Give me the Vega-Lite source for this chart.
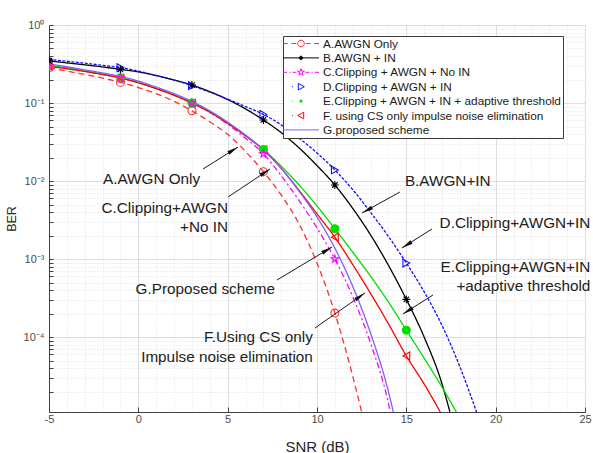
{
  "$schema": "https://vega.github.io/schema/vega-lite/v6.json",
  "width": 536,
  "height": 387,
  "autosize": {"type": "none"},
  "padding": {"left": 49, "top": 25, "right": 8, "bottom": 41},
  "background": "white",
  "config": {"font": "Liberation Sans", "view": {"stroke": null}},
  "datasets": {
    "curves": [
      {"series": "A.AWGN Only", "snr": -5, "ber": 0.282},
      {"series": "A.AWGN Only", "snr": -4, "ber": 0.257},
      {"series": "A.AWGN Only", "snr": -3, "ber": 0.232},
      {"series": "A.AWGN Only", "snr": -2, "ber": 0.209},
      {"series": "A.AWGN Only", "snr": -1, "ber": 0.184},
      {"series": "A.AWGN Only", "snr": 0, "ber": 0.158},
      {"series": "A.AWGN Only", "snr": 1, "ber": 0.132},
      {"series": "A.AWGN Only", "snr": 2, "ber": 0.105},
      {"series": "A.AWGN Only", "snr": 3, "ber": 0.0794},
      {"series": "A.AWGN Only", "snr": 4, "ber": 0.0575},
      {"series": "A.AWGN Only", "snr": 5, "ber": 0.0398},
      {"series": "A.AWGN Only", "snr": 6, "ber": 0.024},
      {"series": "A.AWGN Only", "snr": 7, "ber": 0.0132},
      {"series": "A.AWGN Only", "snr": 8, "ber": 0.00661},
      {"series": "A.AWGN Only", "snr": 9, "ber": 0.00282},
      {"series": "A.AWGN Only", "snr": 10, "ber": 0.000891},
      {"series": "A.AWGN Only", "snr": 11, "ber": 0.000204},
      {"series": "A.AWGN Only", "snr": 12, "ber": 0.0000316},
      {"series": "A.AWGN Only", "snr": 12.5, "ber": 0.000011},
      {"series": "B.AWGN + IN", "snr": -5, "ber": 0.347},
      {"series": "B.AWGN + IN", "snr": -4, "ber": 0.327},
      {"series": "B.AWGN + IN", "snr": -3, "ber": 0.309},
      {"series": "B.AWGN + IN", "snr": -2, "ber": 0.29},
      {"series": "B.AWGN + IN", "snr": -1, "ber": 0.27},
      {"series": "B.AWGN + IN", "snr": 0, "ber": 0.251},
      {"series": "B.AWGN + IN", "snr": 1, "ber": 0.225},
      {"series": "B.AWGN + IN", "snr": 2, "ber": 0.197},
      {"series": "B.AWGN + IN", "snr": 3, "ber": 0.17},
      {"series": "B.AWGN + IN", "snr": 4, "ber": 0.14},
      {"series": "B.AWGN + IN", "snr": 5, "ber": 0.111},
      {"series": "B.AWGN + IN", "snr": 6, "ber": 0.0841},
      {"series": "B.AWGN + IN", "snr": 7, "ber": 0.0607},
      {"series": "B.AWGN + IN", "snr": 8, "ber": 0.0417},
      {"series": "B.AWGN + IN", "snr": 9, "ber": 0.0266},
      {"series": "B.AWGN + IN", "snr": 10, "ber": 0.0158},
      {"series": "B.AWGN + IN", "snr": 11, "ber": 0.00891},
      {"series": "B.AWGN + IN", "snr": 12, "ber": 0.00447},
      {"series": "B.AWGN + IN", "snr": 13, "ber": 0.00204},
      {"series": "B.AWGN + IN", "snr": 14, "ber": 0.000832},
      {"series": "B.AWGN + IN", "snr": 15, "ber": 0.000305},
      {"series": "B.AWGN + IN", "snr": 16, "ber": 0.0001},
      {"series": "B.AWGN + IN", "snr": 17, "ber": 0.0000251},
      {"series": "B.AWGN + IN", "snr": 17.44, "ber": 0.000011},
      {"series": "C.Clipping + AWGN + No IN", "snr": -5, "ber": 0.302},
      {"series": "C.Clipping + AWGN + No IN", "snr": -4, "ber": 0.282},
      {"series": "C.Clipping + AWGN + No IN", "snr": -3, "ber": 0.257},
      {"series": "C.Clipping + AWGN + No IN", "snr": -2, "ber": 0.234},
      {"series": "C.Clipping + AWGN + No IN", "snr": -1, "ber": 0.211},
      {"series": "C.Clipping + AWGN + No IN", "snr": 0, "ber": 0.184},
      {"series": "C.Clipping + AWGN + No IN", "snr": 1, "ber": 0.155},
      {"series": "C.Clipping + AWGN + No IN", "snr": 2, "ber": 0.126},
      {"series": "C.Clipping + AWGN + No IN", "snr": 3, "ber": 0.1},
      {"series": "C.Clipping + AWGN + No IN", "snr": 4, "ber": 0.0759},
      {"series": "C.Clipping + AWGN + No IN", "snr": 5, "ber": 0.0537},
      {"series": "C.Clipping + AWGN + No IN", "snr": 6, "ber": 0.0355},
      {"series": "C.Clipping + AWGN + No IN", "snr": 7, "ber": 0.0224},
      {"series": "C.Clipping + AWGN + No IN", "snr": 8, "ber": 0.0117},
      {"series": "C.Clipping + AWGN + No IN", "snr": 9, "ber": 0.00562},
      {"series": "C.Clipping + AWGN + No IN", "snr": 10, "ber": 0.00251},
      {"series": "C.Clipping + AWGN + No IN", "snr": 11, "ber": 0.001},
      {"series": "C.Clipping + AWGN + No IN", "snr": 12, "ber": 0.000331},
      {"series": "C.Clipping + AWGN + No IN", "snr": 13, "ber": 0.0000832},
      {"series": "C.Clipping + AWGN + No IN", "snr": 14, "ber": 0.0000141},
      {"series": "C.Clipping + AWGN + No IN", "snr": 14.1, "ber": 0.000011},
      {"series": "D.Clipping + AWGN + IN", "snr": -5, "ber": 0.363},
      {"series": "D.Clipping + AWGN + IN", "snr": -4, "ber": 0.343},
      {"series": "D.Clipping + AWGN + IN", "snr": -3, "ber": 0.324},
      {"series": "D.Clipping + AWGN + IN", "snr": -2, "ber": 0.304},
      {"series": "D.Clipping + AWGN + IN", "snr": -1, "ber": 0.284},
      {"series": "D.Clipping + AWGN + IN", "snr": 0, "ber": 0.257},
      {"series": "D.Clipping + AWGN + IN", "snr": 1, "ber": 0.226},
      {"series": "D.Clipping + AWGN + IN", "snr": 2, "ber": 0.197},
      {"series": "D.Clipping + AWGN + IN", "snr": 3, "ber": 0.167},
      {"series": "D.Clipping + AWGN + IN", "snr": 4, "ber": 0.138},
      {"series": "D.Clipping + AWGN + IN", "snr": 5, "ber": 0.112},
      {"series": "D.Clipping + AWGN + IN", "snr": 6, "ber": 0.0902},
      {"series": "D.Clipping + AWGN + IN", "snr": 7, "ber": 0.0716},
      {"series": "D.Clipping + AWGN + IN", "snr": 8, "ber": 0.0525},
      {"series": "D.Clipping + AWGN + IN", "snr": 9, "ber": 0.0355},
      {"series": "D.Clipping + AWGN + IN", "snr": 10, "ber": 0.0229},
      {"series": "D.Clipping + AWGN + IN", "snr": 11, "ber": 0.0139},
      {"series": "D.Clipping + AWGN + IN", "snr": 12, "ber": 0.00776},
      {"series": "D.Clipping + AWGN + IN", "snr": 13, "ber": 0.00398},
      {"series": "D.Clipping + AWGN + IN", "snr": 14, "ber": 0.00195},
      {"series": "D.Clipping + AWGN + IN", "snr": 15, "ber": 0.000891},
      {"series": "D.Clipping + AWGN + IN", "snr": 16, "ber": 0.00038},
      {"series": "D.Clipping + AWGN + IN", "snr": 17, "ber": 0.000141},
      {"series": "D.Clipping + AWGN + IN", "snr": 18, "ber": 0.0000417},
      {"series": "D.Clipping + AWGN + IN", "snr": 18.93, "ber": 0.000011},
      {"series": "E.Clipping + AWGN + IN + adaptive threshold", "snr": -5, "ber": 0.302},
      {"series": "E.Clipping + AWGN + IN + adaptive threshold", "snr": -4, "ber": 0.282},
      {"series": "E.Clipping + AWGN + IN + adaptive threshold", "snr": -3, "ber": 0.257},
      {"series": "E.Clipping + AWGN + IN + adaptive threshold", "snr": -2, "ber": 0.234},
      {"series": "E.Clipping + AWGN + IN + adaptive threshold", "snr": -1, "ber": 0.211},
      {"series": "E.Clipping + AWGN + IN + adaptive threshold", "snr": 0, "ber": 0.182},
      {"series": "E.Clipping + AWGN + IN + adaptive threshold", "snr": 1, "ber": 0.153},
      {"series": "E.Clipping + AWGN + IN + adaptive threshold", "snr": 2, "ber": 0.126},
      {"series": "E.Clipping + AWGN + IN + adaptive threshold", "snr": 3, "ber": 0.1},
      {"series": "E.Clipping + AWGN + IN + adaptive threshold", "snr": 4, "ber": 0.0767},
      {"series": "E.Clipping + AWGN + IN + adaptive threshold", "snr": 5, "ber": 0.0556},
      {"series": "E.Clipping + AWGN + IN + adaptive threshold", "snr": 6, "ber": 0.0385},
      {"series": "E.Clipping + AWGN + IN + adaptive threshold", "snr": 7, "ber": 0.0255},
      {"series": "E.Clipping + AWGN + IN + adaptive threshold", "snr": 8, "ber": 0.0155},
      {"series": "E.Clipping + AWGN + IN + adaptive threshold", "snr": 9, "ber": 0.00891},
      {"series": "E.Clipping + AWGN + IN + adaptive threshold", "snr": 10, "ber": 0.00479},
      {"series": "E.Clipping + AWGN + IN + adaptive threshold", "snr": 11, "ber": 0.00245},
      {"series": "E.Clipping + AWGN + IN + adaptive threshold", "snr": 12, "ber": 0.00123},
      {"series": "E.Clipping + AWGN + IN + adaptive threshold", "snr": 13, "ber": 0.000603},
      {"series": "E.Clipping + AWGN + IN + adaptive threshold", "snr": 14, "ber": 0.000282},
      {"series": "E.Clipping + AWGN + IN + adaptive threshold", "snr": 15, "ber": 0.000123},
      {"series": "E.Clipping + AWGN + IN + adaptive threshold", "snr": 16, "ber": 0.0000537},
      {"series": "E.Clipping + AWGN + IN + adaptive threshold", "snr": 17, "ber": 0.0000229},
      {"series": "E.Clipping + AWGN + IN + adaptive threshold", "snr": 17.8, "ber": 0.000011},
      {"series": "F. using CS only impulse noise elimination", "snr": -5, "ber": 0.295},
      {"series": "F. using CS only impulse noise elimination", "snr": -4, "ber": 0.275},
      {"series": "F. using CS only impulse noise elimination", "snr": -3, "ber": 0.254},
      {"series": "F. using CS only impulse noise elimination", "snr": -2, "ber": 0.232},
      {"series": "F. using CS only impulse noise elimination", "snr": -1, "ber": 0.209},
      {"series": "F. using CS only impulse noise elimination", "snr": 0, "ber": 0.182},
      {"series": "F. using CS only impulse noise elimination", "snr": 1, "ber": 0.153},
      {"series": "F. using CS only impulse noise elimination", "snr": 2, "ber": 0.126},
      {"series": "F. using CS only impulse noise elimination", "snr": 3, "ber": 0.1},
      {"series": "F. using CS only impulse noise elimination", "snr": 4, "ber": 0.0767},
      {"series": "F. using CS only impulse noise elimination", "snr": 5, "ber": 0.055},
      {"series": "F. using CS only impulse noise elimination", "snr": 6, "ber": 0.038},
      {"series": "F. using CS only impulse noise elimination", "snr": 7, "ber": 0.0251},
      {"series": "F. using CS only impulse noise elimination", "snr": 8, "ber": 0.0145},
      {"series": "F. using CS only impulse noise elimination", "snr": 9, "ber": 0.00759},
      {"series": "F. using CS only impulse noise elimination", "snr": 10, "ber": 0.0038},
      {"series": "F. using CS only impulse noise elimination", "snr": 11, "ber": 0.00191},
      {"series": "F. using CS only impulse noise elimination", "snr": 12, "ber": 0.000851},
      {"series": "F. using CS only impulse noise elimination", "snr": 13, "ber": 0.000363},
      {"series": "F. using CS only impulse noise elimination", "snr": 14, "ber": 0.000148},
      {"series": "F. using CS only impulse noise elimination", "snr": 15, "ber": 0.0000575},
      {"series": "F. using CS only impulse noise elimination", "snr": 16, "ber": 0.0000251},
      {"series": "F. using CS only impulse noise elimination", "snr": 16.9, "ber": 0.000011},
      {"series": "G.proposed scheme", "snr": -5, "ber": 0.316},
      {"series": "G.proposed scheme", "snr": -4, "ber": 0.292},
      {"series": "G.proposed scheme", "snr": -3, "ber": 0.266},
      {"series": "G.proposed scheme", "snr": -2, "ber": 0.243},
      {"series": "G.proposed scheme", "snr": -1, "ber": 0.219},
      {"series": "G.proposed scheme", "snr": 0, "ber": 0.191},
      {"series": "G.proposed scheme", "snr": 1, "ber": 0.16},
      {"series": "G.proposed scheme", "snr": 2, "ber": 0.132},
      {"series": "G.proposed scheme", "snr": 3, "ber": 0.105},
      {"series": "G.proposed scheme", "snr": 4, "ber": 0.0794},
      {"series": "G.proposed scheme", "snr": 5, "ber": 0.0569},
      {"series": "G.proposed scheme", "snr": 6, "ber": 0.0389},
      {"series": "G.proposed scheme", "snr": 7, "ber": 0.0251},
      {"series": "G.proposed scheme", "snr": 8, "ber": 0.0145},
      {"series": "G.proposed scheme", "snr": 9, "ber": 0.00741},
      {"series": "G.proposed scheme", "snr": 10, "ber": 0.00347},
      {"series": "G.proposed scheme", "snr": 11, "ber": 0.00138},
      {"series": "G.proposed scheme", "snr": 12, "ber": 0.000447},
      {"series": "G.proposed scheme", "snr": 13, "ber": 0.000112},
      {"series": "G.proposed scheme", "snr": 14, "ber": 0.00002},
      {"series": "G.proposed scheme", "snr": 14.27, "ber": 0.000011}
    ],
    "names": [
      {"series": "A.AWGN Only"},
      {"series": "B.AWGN + IN"},
      {"series": "C.Clipping + AWGN + No IN"},
      {"series": "D.Clipping + AWGN + IN"},
      {"series": "E.Clipping + AWGN + IN + adaptive threshold"},
      {"series": "F. using CS only impulse noise elimination"},
      {"series": "G.proposed scheme"}
    ],
    "arrows": [
      {"x0": 3.62, "y0": 0.01429, "x1": 5.58, "y1": 0.02735},
      {"x0": 5.02, "y0": 0.00625, "x1": 7.37, "y1": 0.01429},
      {"x0": 7.76, "y0": 0.00054, "x1": 10.84, "y1": 0.00143},
      {"x0": 9.885, "y0": 0.000131, "x1": 12.68, "y1": 0.000368},
      {"x0": 14.64, "y0": 0.00724, "x1": 12.52, "y1": 0.0039},
      {"x0": 16.43, "y0": 0.00243, "x1": 14.75, "y1": 0.00139},
      {"x0": 16.49, "y0": 0.000347, "x1": 14.81, "y1": 0.000198}
    ],
    "notesLeft": [
      {"snr": -1.98, "ber": 0.01064, "label": "A.AWGN Only"},
      {"snr": 14.92, "ber": 0.01, "label": "B.AWGN+IN"}
    ],
    "notesRight": [
      {"snr": 5.02, "ber": 0.00452, "label": "C.Clipping+AWGN"},
      {"snr": 5.02, "ber": 0.00258, "label": "+No IN"},
      {"snr": 7.65, "ber": 0.000414, "label": "G.Proposed scheme"},
      {"snr": 9.77, "ber": 0.0000991, "label": "F.Using CS only"},
      {"snr": 9.77, "ber": 0.0000557, "label": "Impulse noise elimination"},
      {"snr": 25.3, "ber": 0.00294, "label": "D.Clipping+AWGN+IN"},
      {"snr": 25.3, "ber": 0.000804, "label": "E.Clipping+AWGN+IN"},
      {"snr": 25.3, "ber": 0.000452, "label": "+adaptive threshold"}
    ]
  },
  "layer": [
    {
      "data": {"name": "curves"},
      "mark": {"type": "line", "interpolate": "monotone", "strokeWidth": 1.3, "clip": true},
      "encoding": {
        "x": {
          "field": "snr", "type": "quantitative",
          "scale": {"domain": [-5, 25], "nice": false, "zero": false},
          "axis": {
            "title": "SNR (dB)",
            "values": [-5, -4, -3, -2, -1, 0, 1, 2, 3, 4, 5, 6, 7, 8, 9, 10, 11, 12, 13, 14, 15, 16, 17, 18, 19, 20, 21, 22, 23, 24, 25],
            "labelExpr": "datum.value % 5 == 0 ? '' + datum.value : ''",
            "labelOverlap": false,
            "labelFlush": false,
            "labelFontSize": 11,
            "labelColor": "#4d4d4d",
            "labelPadding": 6,
            "tickSize": -5,
            "tickColor": {"condition": {"test": "datum.value % 5 == 0", "value": "#404040"}, "value": "transparent"},
            "domainColor": "#404040",
            "grid": true,
            "gridColor": {"condition": {"test": "datum.value % 5 == 0", "value": "#d2d2d2"}, "value": "#e2e2e2"},
            "gridDash": {"condition": {"test": "datum.value % 5 == 0", "value": [1, 0]}, "value": [1, 2]},
            "titleFontSize": 15,
            "titleFontWeight": "normal",
            "titleColor": "#262626",
            "titleY": 34,
            "titleBaseline": "middle"
          }
        },
        "y": {
          "field": "ber", "type": "quantitative",
          "scale": {"type": "log", "domain": [0.000011, 1], "nice": false},
          "axis": {
            "title": "BER",
            "values": [0.00002, 0.00003, 0.00004, 0.00005, 0.00006, 0.00007, 0.00008, 0.00009, 0.0001, 0.0002, 0.0003, 0.0004, 0.0005, 0.0006, 0.0007, 0.0008, 0.0009, 0.001, 0.002, 0.003, 0.004, 0.005, 0.006, 0.007, 0.008, 0.009, 0.01, 0.02, 0.03, 0.04, 0.05, 0.06, 0.07, 0.08, 0.09, 0.1, 0.2, 0.3, 0.4, 0.5, 0.6, 0.7, 0.8, 0.9, 1],
            "labelExpr": "datum.value == 1 ? '10⁰' : datum.value == 0.1 ? '10⁻¹' : datum.value == 0.01 ? '10⁻²' : datum.value == 0.001 ? '10⁻³' : datum.value == 0.0001 ? '10⁻⁴' : ''",
            "labelOverlap": false,
            "labelFlush": false,
            "labelFontSize": 11,
            "labelColor": "#4d4d4d",
            "labelPadding": 9,
            "tickSize": -4,
            "tickColor": "#404040",
            "domainColor": "#404040",
            "grid": true,
            "gridColor": {"condition": {"test": "datum.value == 1 || datum.value == 0.1 || datum.value == 0.01 || datum.value == 0.001 || datum.value == 0.0001", "value": "#d2d2d2"}, "value": "#e0e0e0"},
            "gridDash": {"condition": {"test": "datum.value == 1 || datum.value == 0.1 || datum.value == 0.01 || datum.value == 0.001 || datum.value == 0.0001", "value": [1, 0]}, "value": [1, 2]},
            "titleFontSize": 12.5,
            "titleFontWeight": "normal",
            "titleColor": "#262626",
            "titleX": -38,
            "titleY": 193.5,
            "titleAlign": "center",
            "titleBaseline": "middle"
          }
        },
        "stroke": {
          "field": "series", "type": "nominal", "legend": null,
          "scale": {
            "domain": ["A.AWGN Only", "B.AWGN + IN", "C.Clipping + AWGN + No IN", "D.Clipping + AWGN + IN", "E.Clipping + AWGN + IN + adaptive threshold", "F. using CS only impulse noise elimination", "G.proposed scheme"],
            "range": ["#ff3030", "#000000", "#ff00ff", "#1010ff", "#00dd00", "#ff0000", "#7b61ff"]
          }
        },
        "strokeDash": {
          "field": "series", "type": "nominal", "legend": null,
          "scale": {
            "domain": ["A.AWGN Only", "B.AWGN + IN", "C.Clipping + AWGN + No IN", "D.Clipping + AWGN + IN", "E.Clipping + AWGN + IN + adaptive threshold", "F. using CS only impulse noise elimination", "G.proposed scheme"],
            "range": [[6, 4], [1, 0], [6, 3, 2, 3], [3, 1.5], [1, 0], [1, 0], [1, 0]]
          }
        }
      }
    },
    {
      "data": {"name": "curves"},
      "transform": [
        {"filter": {"field": "snr", "oneOf": [-5, -1, 3, 7, 11, 15]}},
        {"filter": {"not": {"field": "series", "equal": "G.proposed scheme"}}}
      ],
      "mark": {"type": "point", "filled": false, "opacity": 1, "strokeWidth": 1.1, "size": 62, "clip": true},
      "encoding": {
        "x": {"field": "snr", "type": "quantitative", "scale": {"domain": [-5, 25], "nice": false, "zero": false}, "axis": null},
        "y": {"field": "ber", "type": "quantitative", "scale": {"type": "log", "domain": [0.000011, 1], "nice": false}, "axis": null},
        "shape": {
          "field": "series", "type": "nominal", "legend": null,
          "scale": {
            "domain": ["A.AWGN Only", "B.AWGN + IN", "C.Clipping + AWGN + No IN", "D.Clipping + AWGN + IN", "E.Clipping + AWGN + IN + adaptive threshold", "F. using CS only impulse noise elimination", "G.proposed scheme"],
            "range": [
              "circle",
              "M0,-1L0,1M-1,0L1,0M-0.7,-0.7L0.7,0.7M-0.7,0.7L0.7,-0.7",
              "M0,-1L0.2245,-0.309L0.951,-0.309L0.363,0.118L0.588,0.809L0,0.382L-0.588,0.809L-0.363,0.118L-0.951,-0.309L-0.2245,-0.309Z",
              "triangle-right",
              "circle",
              "triangle-left",
              "circle"
            ]
          }
        },
        "stroke": {
          "field": "series", "type": "nominal", "legend": null,
          "scale": {
            "domain": ["A.AWGN Only", "B.AWGN + IN", "C.Clipping + AWGN + No IN", "D.Clipping + AWGN + IN", "E.Clipping + AWGN + IN + adaptive threshold", "F. using CS only impulse noise elimination", "G.proposed scheme"],
            "range": ["#ff3030", "#000000", "#ff00ff", "#1010ff", "#00dd00", "#ff0000", "#7b61ff"]
          }
        },
        "fill": {
          "field": "series", "type": "nominal", "legend": null,
          "scale": {
            "domain": ["A.AWGN Only", "B.AWGN + IN", "C.Clipping + AWGN + No IN", "D.Clipping + AWGN + IN", "E.Clipping + AWGN + IN + adaptive threshold", "F. using CS only impulse noise elimination", "G.proposed scheme"],
            "range": ["transparent", "#000000", "transparent", "transparent", "#00dd00", "transparent", "transparent"]
          }
        },
        "order": {"field": "series", "sort": "descending"}
      }
    },
    {
      "data": {"name": "names"},
      "mark": {"type": "point", "opacity": 0, "size": 144, "strokeWidth": 1},
      "encoding": {
        "shape": {
          "field": "series", "type": "nominal",
          "scale": {
            "domain": ["A.AWGN Only", "B.AWGN + IN", "C.Clipping + AWGN + No IN", "D.Clipping + AWGN + IN", "E.Clipping + AWGN + IN + adaptive threshold", "F. using CS only impulse noise elimination", "G.proposed scheme"],
            "range": [
              "M-3,0H-2.2M-1.6,0H-0.8M0.8,0H1.6M2.2,0H3M0.55,0A0.55,0.55,0,1,1,-0.55,0A0.55,0.55,0,1,1,0.55,0Z",
              "M-3,0H3M0.28,0A0.28,0.28,0,1,1,-0.28,0A0.28,0.28,0,1,1,0.28,0Z",
              "M-3,0H-2.3M-1.95,0H-1.75M-1.4,0H-0.75M0.75,0H1.4M1.75,0H1.95M2.3,0H3M0,-0.6L0.135,-0.185L0.571,-0.185L0.218,0.071L0.353,0.485L0,0.229L-0.353,0.485L-0.218,0.071L-0.571,-0.185L-0.135,-0.185Z",
              "M-1.5,0H-1.35M-0.45,-0.55L0.55,0L-0.45,0.55Z",
              "M-1.5,0H-1.35M0.2,0A0.2,0.2,0,1,1,-0.2,0A0.2,0.2,0,1,1,0.2,0Z",
              "M-1.5,0H-1.35M0.45,-0.55L-0.55,0L0.45,0.55Z",
              "M-3,0H3"
            ]
          },
          "legend": {
            "title": null, "orient": "none", "legendX": 234, "legendY": 11, "padding": 1, "rowPadding": 0.4,
            "symbolSize": 144, "symbolStrokeWidth": 1, "symbolOpacity": 1, "symbolOffset": 10.5, "labelOffset": 15.5,
            "labelFontSize": 11.8, "labelFont": "Liberation Sans", "labelColor": "#1a1a1a", "labelLimit": 400,
            "fillColor": "white", "strokeColor": "#3a3a3a"
          }
        },
        "stroke": {
          "field": "series", "type": "nominal",
          "scale": {
            "domain": ["A.AWGN Only", "B.AWGN + IN", "C.Clipping + AWGN + No IN", "D.Clipping + AWGN + IN", "E.Clipping + AWGN + IN + adaptive threshold", "F. using CS only impulse noise elimination", "G.proposed scheme"],
            "range": ["#ff3030", "#000000", "#ff00ff", "#1010ff", "#00dd00", "#ff0000", "#7b61ff"]
          },
          "legend": {
            "title": null, "orient": "none", "legendX": 234, "legendY": 11, "padding": 1, "rowPadding": 0.4,
            "symbolSize": 144, "symbolStrokeWidth": 1, "symbolOpacity": 1, "symbolOffset": 10.5, "labelOffset": 15.5,
            "labelFontSize": 11.8, "labelFont": "Liberation Sans", "labelColor": "#1a1a1a", "labelLimit": 400,
            "fillColor": "white", "strokeColor": "#3a3a3a"
          }
        },
        "fill": {
          "field": "series", "type": "nominal",
          "scale": {
            "domain": ["A.AWGN Only", "B.AWGN + IN", "C.Clipping + AWGN + No IN", "D.Clipping + AWGN + IN", "E.Clipping + AWGN + IN + adaptive threshold", "F. using CS only impulse noise elimination", "G.proposed scheme"],
            "range": ["transparent", "#000000", "transparent", "transparent", "#00dd00", "transparent", "transparent"]
          },
          "legend": {
            "title": null, "orient": "none", "legendX": 234, "legendY": 11, "padding": 1, "rowPadding": 0.4,
            "symbolSize": 144, "symbolStrokeWidth": 1, "symbolOpacity": 1, "symbolOffset": 10.5, "labelOffset": 15.5,
            "labelFontSize": 11.8, "labelFont": "Liberation Sans", "labelColor": "#1a1a1a", "labelLimit": 400,
            "fillColor": "white", "strokeColor": "#3a3a3a"
          }
        }
      }
    },
    {
      "data": {"name": "arrows"},
      "mark": {"type": "rule", "color": "#1a1a1a", "strokeWidth": 1},
      "encoding": {
        "x": {"field": "x0", "type": "quantitative", "scale": {"domain": [-5, 25], "nice": false, "zero": false}, "axis": null},
        "y": {"field": "y0", "type": "quantitative", "scale": {"type": "log", "domain": [0.000011, 1], "nice": false}, "axis": null},
        "x2": {"field": "x1"},
        "y2": {"field": "y1"}
      }
    },
    {
      "data": {"name": "arrows"},
      "transform": [
        {"calculate": "atan2((datum.x1 - datum.x0) * 536 / 30, (log(datum.y1) - log(datum.y0)) / LN10 * 387 / 4.9586) * 180 / PI", "as": "heading"}
      ],
      "mark": {"type": "point", "shape": "M0,0L0.36,2L-0.36,2Z", "filled": true, "color": "#111111", "opacity": 1, "size": 130},
      "encoding": {
        "x": {"field": "x1", "type": "quantitative", "scale": {"domain": [-5, 25], "nice": false, "zero": false}, "axis": null},
        "y": {"field": "y1", "type": "quantitative", "scale": {"type": "log", "domain": [0.000011, 1], "nice": false}, "axis": null},
        "angle": {"field": "heading", "type": "quantitative", "scale": null}
      }
    },
    {
      "data": {"name": "notesLeft"},
      "mark": {"type": "text", "align": "left", "baseline": "middle", "fontSize": 15.3, "font": "Liberation Sans", "color": "#222222"},
      "encoding": {
        "x": {"field": "snr", "type": "quantitative", "scale": {"domain": [-5, 25], "nice": false, "zero": false}, "axis": null},
        "y": {"field": "ber", "type": "quantitative", "scale": {"type": "log", "domain": [0.000011, 1], "nice": false}, "axis": null},
        "text": {"field": "label"}
      }
    },
    {
      "data": {"name": "notesRight"},
      "mark": {"type": "text", "align": "right", "baseline": "middle", "fontSize": 15.3, "font": "Liberation Sans", "color": "#222222"},
      "encoding": {
        "x": {"field": "snr", "type": "quantitative", "scale": {"domain": [-5, 25], "nice": false, "zero": false}, "axis": null},
        "y": {"field": "ber", "type": "quantitative", "scale": {"type": "log", "domain": [0.000011, 1], "nice": false}, "axis": null},
        "text": {"field": "label"}
      }
    }
  ],
  "resolve": {
    "scale": {"shape": "independent", "stroke": "independent", "fill": "independent"},
    "axis": {"x": "independent", "y": "independent"}
  }
}
